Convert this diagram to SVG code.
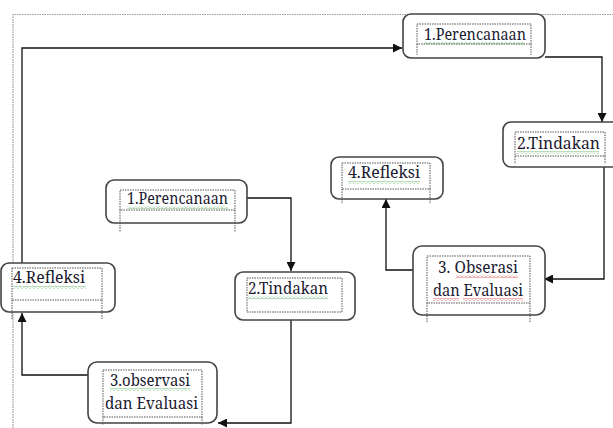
<svg xmlns="http://www.w3.org/2000/svg" width="613" height="428" viewBox="0 0 613 428">
<defs>
<style>
.box{fill:#fff;stroke:#444;stroke-width:1.6}
.frame{fill:none;stroke:#555;stroke-width:1;stroke-dasharray:1.5 1}
.t{font-family:'Noto Serif','DejaVu Serif',serif;font-size:17px;fill:#1a1a30}
.c{fill:none;stroke:#111;stroke-width:1.3}
.border{fill:none;stroke:#999;stroke-width:1.2;stroke-dasharray:1.5 1}
</style>
<marker id="ah" viewBox="0 0 10 10" refX="10" refY="5" markerWidth="9" markerHeight="9" markerUnits="userSpaceOnUse" orient="auto">
<path d="M0,0 L10,5 L0,10 Z" fill="#111"/>
</marker>
<pattern id="wg" width="4" height="3" patternUnits="userSpaceOnUse">
<path d="M0,2.5 L2,0.5 L4,2.5" fill="none" stroke="#4caf50" stroke-width="0.8"/>
</pattern>
<pattern id="wr" width="4" height="3" patternUnits="userSpaceOnUse">
<path d="M0,2.5 L2,0.5 L4,2.5" fill="none" stroke="#e53935" stroke-width="0.8"/>
</pattern>
</defs>
<rect width="613" height="428" fill="#fff"/>
<path class="border" d="M13,428 L13,14.5 L613,14.5"/>

<g id="connectors">
<path class="c" d="M22,263 L22,48 L402,48" marker-end="url(#ah)"/>
<path class="c" d="M545,57 L602,57 L602,122" marker-end="url(#ah)"/>
<path class="c" d="M604,167 L604,279 L544,279" marker-end="url(#ah)"/>
<path class="c" d="M413,270 L386,270 L386,199" marker-end="url(#ah)"/>
<path class="c" d="M247,198 L291,198 L291,271" marker-end="url(#ah)"/>
<path class="c" d="M291,320 L291,423 L218,423" marker-end="url(#ah)"/>
<path class="c" d="M88,375 L22,375 L22,313" marker-end="url(#ah)"/>
</g>

<g id="n-perencanaan-top">
<rect class="box" x="403" y="14" width="142" height="44" rx="8"/>
<path class="frame" d="M417,24 H531 V44 H417 Z M417,44 V55 M531,44 V55"/>
<text class="t" x="424" y="40" textLength="102" lengthAdjust="spacingAndGlyphs">1.Perencanaan</text>
<rect x="424" y="42" width="101" height="3" fill="url(#wg)"/>
</g>

<g id="n-tindakan-top">
<rect class="box" x="503" y="122" width="118" height="45" rx="8"/>
<path class="frame" d="M515,132 H605 V156 H515 Z M515,156 V164 M605,156 V164"/>
<text class="t" x="517" y="149" textLength="83" lengthAdjust="spacingAndGlyphs">2.Tindakan</text>
<rect x="517" y="151" width="82" height="3" fill="url(#wg)"/>
</g>

<g id="n-refleksi-mid">
<rect class="box" x="331" y="157" width="112" height="42" rx="8"/>
<path class="frame" d="M342,163 H430 V189 H342 Z M342,189 V203 M430,189 V203"/>
<text class="t" x="348" y="178" textLength="72" lengthAdjust="spacingAndGlyphs">4.Refleksi</text>
<rect x="348" y="181" width="72" height="3" fill="url(#wg)"/>
</g>

<g id="n-obserasi">
<rect class="box" x="413" y="246" width="132" height="69" rx="9"/>
<path class="frame" d="M427,256 H530 V303 H427 Z M427,303 V323 M530,303 V323"/>
<text class="t" x="438" y="273" textLength="80" lengthAdjust="spacingAndGlyphs">3. Obserasi</text>
<text class="t" x="433" y="296" textLength="90" lengthAdjust="spacingAndGlyphs">dan Evaluasi</text>
<rect x="456" y="275" width="62" height="3" fill="url(#wr)"/>
<rect x="433" y="298" width="26" height="3" fill="url(#wr)"/>
<rect x="463" y="298" width="60" height="3" fill="url(#wr)"/>
</g>

<g id="n-perencanaan-left">
<rect class="box" x="106" y="180" width="141" height="43" rx="8"/>
<path class="frame" d="M120,190 H235 V210 H120 Z M120,210 V232 M235,210 V232"/>
<text class="t" x="127" y="204" textLength="101" lengthAdjust="spacingAndGlyphs">1.Perencanaan</text>
<rect x="127" y="206" width="101" height="3" fill="url(#wg)"/>
</g>

<g id="n-tindakan-left">
<rect class="box" x="235" y="272" width="120" height="48" rx="8"/>
<path class="frame" d="M247,278 H342 V312 H247 Z"/>
<text class="t" x="248" y="294" textLength="80" lengthAdjust="spacingAndGlyphs">2.Tindakan</text>
<rect x="248" y="296" width="80" height="3" fill="url(#wg)"/>
</g>

<g id="n-refleksi-left">
<rect class="box" x="1" y="263" width="114" height="49" rx="8"/>
<path class="frame" d="M12,268 H102 V300 H12 Z M12,300 V320 M102,300 V320"/>
<text class="t" x="13" y="283" textLength="72" lengthAdjust="spacingAndGlyphs">4.Refleksi</text>
<rect x="13" y="286" width="73" height="3" fill="url(#wg)"/>
</g>

<g id="n-observasi">
<rect class="box" x="88" y="362" width="129" height="61" rx="9"/>
<path class="frame" d="M103,370 H202 V417 H103 Z M103,417 V425 M202,417 V425"/>
<text class="t" x="110" y="386" textLength="80" lengthAdjust="spacingAndGlyphs">3.observasi</text>
<text class="t" x="105" y="409" textLength="93" lengthAdjust="spacingAndGlyphs">dan Evaluasi</text>
<rect x="110" y="388" width="80" height="3" fill="url(#wg)"/>
</g>
</svg>
